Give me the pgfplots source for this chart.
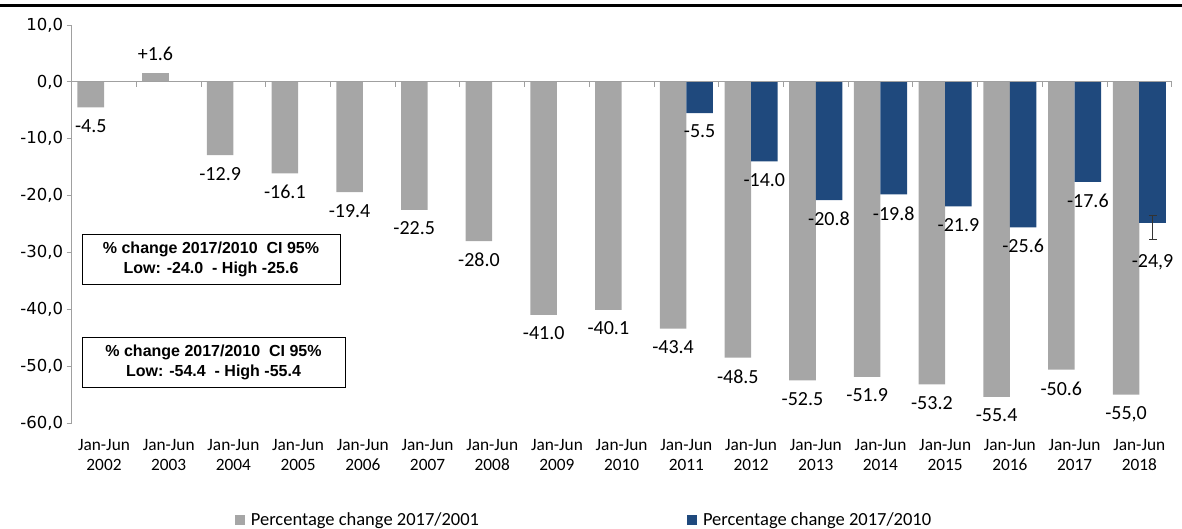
\documentclass[border=0pt]{standalone}
\usepackage{pgfplots}
\pgfplotsset{compat=1.18}
\usepackage{fontspec}
\setmainfont{Carlito}
\newfontfamily\tickfont{DejaVu Sans}
\newfontfamily\boxfont{Liberation Sans}
\definecolor{grayb}{HTML}{A6A6A6}
\definecolor{blueb}{HTML}{1F497D}
\definecolor{axgray}{HTML}{A0A0A0}

\pgfplotstableread{
x y lab
0 -4.5 -4.5
2 -12.9 -12.9
3 -16.1 -16.1
4 -19.4 -19.4
5 -22.5 -22.5
6 -28.0 -28.0
7 -41.0 -41.0
8 -40.1 -40.1
9 -43.4 -43.4
10 -48.5 -48.5
11 -52.5 -52.5
12 -51.9 -51.9
13 -53.2 -53.2
14 -55.4 -55.4
15 -50.6 -50.6
16 -55.0 -55,0
}\graydata

\pgfplotstableread{
x y lab
9 -5.5 -5.5
10 -14.0 -14.0
11 -20.8 -20.8
12 -19.8 -19.8
13 -21.9 -21.9
14 -25.6 -25.6
15 -17.6 -17.6
}\bluedata

\begin{document}
\begin{tikzpicture}
\path[use as bounding box] (0bp,0bp) rectangle (1182bp,-529bp);
\draw[line width=3bp] (0bp,-5.5bp) -- (1182bp,-5.5bp);
\begin{axis}[
  at={(71.65bp,-423bp)}, anchor=south west,
  scale only axis, width=1100bp, height=398bp,
  xmin=-0.5, xmax=16.5, ymin=-60, ymax=10,
  axis x line=none, axis y line=left,
  y axis line style={draw=axgray, line width=0.8bp, -},
  ytick={-60,-50,...,10},
  yticklabel style={font=\tickfont\fontsize{16.5bp}{20bp}\selectfont, text=black,
    /pgf/number format/.cd, fixed, fixed zerofill, precision=1, use comma, assume math mode=true},
  ytick style={draw=axgray, line width=0.8bp},
  tick align=outside, major tick length=5bp,
  ybar, bar width=0.41,
  clip=false,
  nodes near coords, point meta=explicit symbolic,
  every node near coord/.append style={font=\fontsize{20bp}{24bp}\selectfont, text=black, inner sep=2bp, outer sep=10bp, anchor=north},
  legend style={at={(axis description cs:0.1484,-0.243)}, anchor=west, draw=none, fill=none,
    legend columns=2, inner sep=0pt, outer sep=0pt,
    font=\fontsize{18.5bp}{22bp}\selectfont,
    /tikz/every odd column/.append style={column sep=4bp},
    /tikz/every even column/.append style={column sep=206bp}},
]
\addplot[fill=grayb, draw=none, bar shift=-0.205,
  legend image code/.code={\fill[grayb] (0bp,-5bp) rectangle (10bp,5bp);}]
  table[x=x, y=y, meta=lab] {\graydata};
\addlegendentry{Percentage change 2017/2001}
\addplot[fill=blueb, draw=none, bar shift=0.205,
  legend image code/.code={\fill[blueb] (0bp,-5bp) rectangle (10bp,5bp);}]
  table[x=x, y=y, meta=lab] {\bluedata};
\addlegendentry{Percentage change 2017/2010}
\addplot[fill=grayb, draw=none, bar shift=-0.205, forget plot,
  every node near coord/.append style={anchor=south}]
  coordinates {(1,1.6) [+1.6]};
\addplot[fill=blueb, draw=none, bar shift=0.205, forget plot,
  every node near coord/.append style={yshift=-19bp},
  error bars/.cd, y dir=both, y explicit,
  error bar style={draw=black!80, line width=0.8bp},
  error mark options={rotate=90, mark size=4bp, draw=black!80, line width=0.8bp}]
  coordinates {(16,-24.9) += (0,1.4) -= (0,2.8) [-24,9]};
\draw[axgray, line width=0.8bp] (axis cs:-0.5,0) -- (axis cs:16.5,0);
\pgfplotsinvokeforeach{0.5,1.5,...,16.5}{
  \draw[axgray, line width=0.8bp] (axis cs:#1,0) -- ++(0bp,-5bp);
}
\pgfplotsinvokeforeach{0,...,16}{
  \node[align=center, font=\fontsize{17.3bp}{20bp}\selectfont, inner sep=0pt] at (axis cs:#1,-60) [yshift=-32bp] {Jan-Jun\\\pgfmathparse{int(#1+2002)}\pgfmathresult};
}
\end{axis}
\node[draw=black, line width=0.8bp, fill=white, minimum width=258bp, minimum height=50bp, align=center,
  font=\boxfont\bfseries\fontsize{16bp}{20bp}\selectfont, inner sep=0pt] at (211bp,-259bp)
  {\% change 2017/2010\ \ CI 95\%\\Low: -24.0\ \ - High -25.6};
\node[draw=black, line width=0.8bp, fill=white, minimum width=263bp, minimum height=50bp, align=center,
  font=\boxfont\bfseries\fontsize{16bp}{20bp}\selectfont, inner sep=0pt] at (213.5bp,-362bp)
  {\% change 2017/2010\ \ CI 95\%\\Low: -54.4\ \ - High -55.4};
\end{tikzpicture}
\end{document}
